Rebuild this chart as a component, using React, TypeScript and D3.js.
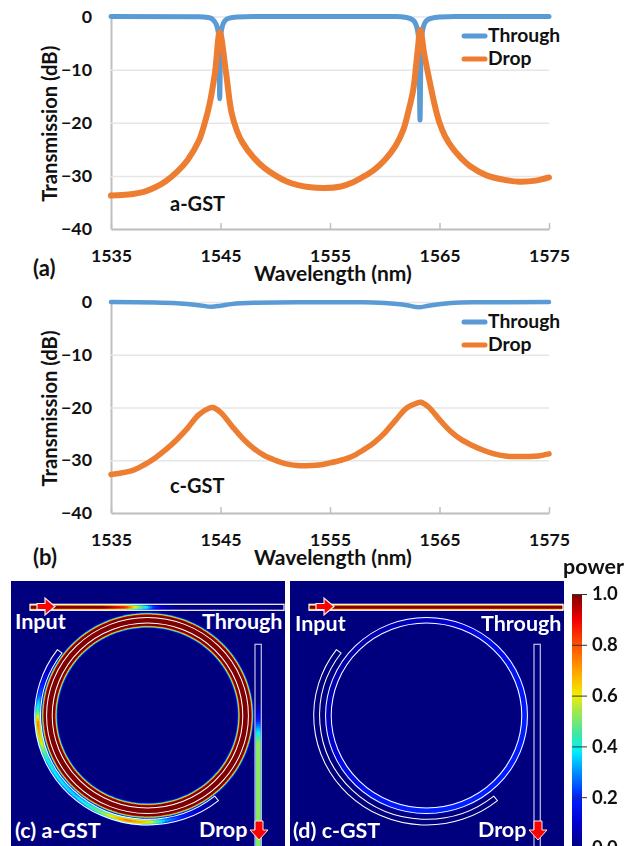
import React, { useEffect, useRef } from "react";
import * as d3 from "d3";

const FONT = "Lato, sans-serif";

// chart values
const xTicks = [1535, 1545, 1555, 1565, 1575];
const yTicks = [0, -10, -20, -30, -40];
const powerTicks = [0, 0.2, 0.4, 0.6, 0.8, 1];

const throughAx = [1535, 1543, 1544, 1544.4, 1544.7, 1544.85, 1544.93, 1545.01, 1545.15, 1545.4, 1545.8, 1546.5, 1548, 1561, 1562, 1562.6, 1562.95, 1563.12, 1563.22, 1563.32, 1563.5, 1563.8, 1564.3, 1565, 1566.5, 1575];
const throughAy = [0, -0.05, -0.25, -0.8, -2, -4, -15.5, -4, -2, -0.8, -0.3, -0.1, 0, 0, -0.2, -0.7, -2.2, -5, -19.5, -5, -2.2, -0.8, -0.3, -0.1, 0, 0];

const dropAx = [1535, 1536, 1537, 1538, 1539, 1540, 1541, 1542, 1543, 1543.5, 1544, 1544.5, 1544.93, 1545.5, 1546, 1546.5, 1547, 1548, 1549, 1550, 1551, 1552, 1553, 1554.5, 1556, 1557, 1558, 1559, 1560, 1561, 1561.7, 1562.2, 1562.6, 1563, 1563.25, 1563.6, 1564.2, 1564.6, 1565, 1565.5, 1566.2, 1567, 1567.8, 1569.3, 1570.8, 1572.3, 1573.8, 1575];
const dropAy = [-33.7, -33.6, -33.4, -33, -32.2, -31, -29.3, -27, -23.5, -20.5, -16.5, -10.5, -3, -10.5, -18, -21.5, -23.7, -26.5, -28.5, -29.9, -31, -31.7, -32.1, -32.3, -32, -31.3, -30.2, -28.9, -27, -24.3, -21.3, -17.5, -13.8, -6.5, -2.5, -7, -13.2, -17, -20, -22.5, -24.8, -26.7, -28.2, -29.9, -30.7, -31.1, -30.9, -30.3];

const throughBx = [1535, 1539, 1541, 1543, 1544.2, 1545, 1546, 1548, 1552, 1558, 1560, 1562, 1563.1, 1564, 1566, 1568, 1575];
const throughBy = [0, -0.1, -0.25, -0.6, -0.9, -0.7, -0.4, -0.15, -0.05, -0.05, -0.2, -0.6, -1, -0.7, -0.2, -0.05, 0];

const dropBx = [1535, 1537, 1538, 1539, 1540, 1541, 1542, 1543, 1544, 1544.3, 1545, 1546, 1547, 1548, 1549, 1550, 1551, 1552, 1554, 1555, 1556, 1557, 1558, 1559, 1560, 1561, 1562, 1563, 1563.3, 1564, 1565, 1566, 1567, 1568, 1569, 1570, 1571, 1572, 1573, 1574, 1575];
const dropBy = [-32.7, -31.9, -30.9, -29.6, -28, -26.1, -23.9, -21.4, -20.1, -20, -20.9, -23.4, -25.8, -27.7, -29.1, -30, -30.7, -31, -30.9, -30.5, -30, -29.3, -28.1, -26.7, -24.8, -22.4, -20.1, -19.1, -19, -19.9, -22.3, -24.5, -26.1, -27.2, -28.1, -28.8, -29.2, -29.3, -29.3, -29.2, -28.8];

// power map colours
const cmapStops = [0, 0.1, 0.2, 0.3, 0.38, 0.45, 0.55, 0.6, 0.7, 0.8, 0.9, 1];
const cmapColors = ["#00007f", "#0000d0", "#0020ff", "#0090ff", "#00f0ff", "#40e8a0", "#b0e840", "#f0f000", "#ffa000", "#ff5000", "#f00000", "#7f0000"];

// field power along the structures (a-GST panel)
const busAngleC = [141, 150, 160, 170, 178, 190, 200, 210, 220, 232, 245, 255, 265, 272, 280, 290, 300, 307];
const busPowerC = [0.02, 0.08, 0.18, 0.32, 0.62, 0.75, 0.58, 0.44, 0.36, 0.38, 0.42, 0.62, 0.75, 0.46, 0.26, 0.14, 0.05, 0.02];
const ringPowerC = 2.6;
const topXC = [30, 60, 100, 125, 132, 138, 145, 152, 160, 175, 283];
const topPowerC = [1, 1, 0.98, 0.8, 0.62, 0.5, 0.38, 0.22, 0.1, 0.01, 0];
const dropYC = [644, 700, 716, 726, 734, 742, 846];
const dropPowerC = [0, 0, 0.14, 0.3, 0.42, 0.52, 0.52];

// field power along the structures (c-GST panel)
const ringAngleD = [0, 40, 80, 110, 150, 190, 230, 270, 310, 360];
const ringPowerD = [0.2, 0.35, 0.45, 0.48, 0.5, 0.5, 0.35, 0.18, 0.12, 0.2];
const topPowerD = 1;

const panelsX = [11, 290];
const panelW = 274;

function drawChart(svg: any, top: number, bottom: number, tx: number[], ty: number[], dx: number[], dy: number[], legendY: number, tag: string, tagY: number, letter: string, letterY: number, lineW: number) {
    const x = d3.scaleLinear().domain([1535, 1575]).range([111, 549]);
    const y = d3.scaleLinear().domain([-40, 0]).range([bottom, top]);

    const yAxis = svg.append("g")
        .attr("transform", "translate(111,0)")
        .call(d3.axisLeft(y).tickValues(yTicks).tickFormat(d3.format("d")).tickSizeInner(-438).tickSizeOuter(0).tickPadding(19));
    yAxis.select(".domain").attr("stroke", "#bfbfbf").attr("stroke-width", 2);
    yAxis.selectAll(".tick line").attr("stroke", "#e6e6e6").attr("stroke-width", 1.5);
    yAxis.selectAll(".tick text").attr("fill", "#111").attr("font-size", 17.8).attr("font-weight", 700).attr("font-family", FONT);

    const xAxis = svg.append("g")
        .attr("transform", `translate(0,${bottom})`)
        .call(d3.axisBottom(x).tickValues(xTicks).tickFormat(d3.format("d")).tickSizeInner(-6).tickSizeOuter(0).tickPadding(20));
    xAxis.select(".domain").attr("stroke", "#bfbfbf").attr("stroke-width", 2);
    xAxis.selectAll(".tick line").attr("stroke", "#bfbfbf").attr("stroke-width", 1.5);
    xAxis.selectAll(".tick text").attr("fill", "#111").attr("font-size", 17.8).attr("font-weight", 700).attr("font-family", FONT);

    const throughLine = d3.line<number>()
        .x((d) => x(d))
        .y((_, i) => y(ty[i]))
        .curve(d3.curveMonotoneX);
    const dropLine = d3.line<number>()
        .x((d) => x(d))
        .y((_, i) => y(dy[i]))
        .curve(d3.curveCatmullRom);

    svg.append("path")
        .attr("d", throughLine(tx))
        .attr("fill", "none")
        .attr("stroke", "#5b9bd5")
        .attr("stroke-width", lineW)
        .attr("stroke-linecap", "round");
    svg.append("path")
        .attr("d", dropLine(dx))
        .attr("fill", "none")
        .attr("stroke", "#ed7d31")
        .attr("stroke-width", lineW + 1)
        .attr("stroke-linecap", "round");

    // legend
    [["Through", "#5b9bd5"], ["Drop", "#ed7d31"]].forEach(([name, color], i) => {
        const ly = legendY + i * 23;
        svg.append("line")
            .attr("x1", 464).attr("x2", 485)
            .attr("y1", ly).attr("y2", ly)
            .attr("stroke", color).attr("stroke-width", 5).attr("stroke-linecap", "round");
        svg.append("text").attr("x", 488).attr("y", ly + 6).text(name)
            .attr("font-size", 19.3).attr("font-weight", 700).attr("font-family", FONT).attr("fill", "#111");
    });

    const label = (t: string, lx: number, ly: number, size: number) =>
        svg.append("text").attr("x", lx).attr("y", ly).text(t)
            .attr("font-size", size).attr("font-weight", 700).attr("font-family", FONT).attr("fill", "#111");

    label(tag, 170, tagY, 20);
    label(letter, 33, letterY, 22);
    label("Wavelength (nm)", 254, letterY + (letter === "(a)" ? 5 : 0), 21);
    label("Transmission (dB)", 0, 0, 20.2)
        .attr("text-anchor", "middle")
        .attr("transform", `translate(57,${(top + bottom) / 2 + 1}) rotate(-90)`);
}

function drawPanel(svg: any, index: number, cmap: any) {
    const px = panelsX[index];
    const dxp = index === 0 ? 0 : 279;
    const cx = 147.5 + dxp;
    const cy = 715.5;
    const isC = index === 0;

    svg.append("rect").attr("x", px).attr("y", 581).attr("width", panelW).attr("height", 265).attr("fill", "#00007f");

    const clipId = `panel-clip-${index}`;
    svg.append("clipPath").attr("id", clipId)
        .append("rect").attr("x", px).attr("y", 581).attr("width", panelW).attr("height", 265);

    const root = svg.append("g").attr("clip-path", `url(#${clipId})`);
    const field = root.append("g").attr("filter", "url(#soft)");

    const ringG = field.append("g").attr("transform", `translate(${cx},${cy}) scale(1.03,1)`);
    const rad = (deg: number) => (deg * Math.PI) / 180;

    // draws thin slices of a circle, layered across the width of the guide
    const arcStrip = (g: any, r: number, from: number, to: number, power: (a: number) => number, layers: number[][]) => {
        layers.forEach(([w, f]) => {
            const arc = d3.arc();
            for (let a = from; a < to; a += 1.5) {
                g.append("path")
                    .attr("d", arc({ innerRadius: r - w / 2, outerRadius: r + w / 2, startAngle: rad(a), endAngle: rad(a + 1.9) } as any))
                    .attr("fill", cmap(power(a) * f));
            }
        });
    };

    const busLayers = [[8, 0.2], [6.5, 0.45], [5, 0.7], [3.5, 0.88], [2, 1]];
    const ringLayersC = [[16, 0.05], [15, 0.1], [14, 0.17], [13, 0.24], [12, 0.31], [11, 0.42]];
    const ringLayersD = [[8, 0.12], [7, 0.25], [6, 0.4]];

    if (isC) {
        const busScale = d3.scaleLinear().domain(busAngleC).range(busPowerC);
        arcStrip(ringG, 106.6, 141, 307, (a) => busScale(a), busLayers);
        arcStrip(ringG, 95.25, 0, 360, () => ringPowerC, ringLayersC);
    } else {
        const ringScale = d3.scaleLinear().domain(ringAngleD).range(ringPowerD);
        arcStrip(ringG, 95.25, 0, 360, (a) => ringScale(a), ringLayersD);
    }

    // straight guides, same slicing
    const guideLayers = [[6, 0.3], [5.4, 0.5], [4.8, 0.62], [4, 0.72], [3.2, 0.85], [2.4, 1.05]];
    const topScale = isC
        ? d3.scaleLinear().domain(topXC).range(topPowerC)
        : () => topPowerD;
    guideLayers.forEach(([w, f]) => {
        for (let gx = 30; gx < 284; gx += 2) {
            field.append("rect")
                .attr("x", gx + dxp).attr("y", 607.3 - w / 2)
                .attr("width", 2.4).attr("height", w)
                .attr("fill", cmap((topScale as any)(Math.min(gx, 283)) * f));
        }
    });
    if (isC) {
        const dropLayers = [[7, 0.3], [6, 0.6], [5, 0.9], [3.8, 1]];
        const dropScale = d3.scaleLinear().domain(dropYC).range(dropPowerC);
        dropLayers.forEach(([w, f]) => {
            for (let gy = 644; gy < 846; gy += 2) {
                field.append("rect")
                    .attr("x", 258.2 - w / 2).attr("y", gy)
                    .attr("width", w).attr("height", 2.4)
                    .attr("fill", cmap(dropScale(gy) * f));
            }
        });
    }

    // white outlines of the device
    const outlines = root.append("g").attr("transform", `translate(${cx},${cy}) scale(1.03,1)`);
    const arc = d3.arc();
    outlines.append("path")
        .attr("d", arc({ innerRadius: 92.5, outerRadius: 98, startAngle: 0, endAngle: Math.PI * 2 } as any))
        .attr("fill", "none").attr("stroke", "#fff").attr("stroke-width", 1).attr("fill-rule", "evenodd");
    outlines.append("path")
        .attr("d", arc({ innerRadius: 103.8, outerRadius: 109.5, startAngle: rad(141), endAngle: rad(307) } as any))
        .attr("fill", "none").attr("stroke", "#fff").attr("stroke-width", 1);

    root.append("rect").attr("x", 30 + dxp).attr("y", 604.3).attr("width", 254).attr("height", 6)
        .attr("fill", "none").attr("stroke", "#fff").attr("stroke-width", 1.2);
    root.append("rect").attr("x", 255 + dxp).attr("y", 644.3).attr("width", 6.3).attr("height", 210)
        .attr("fill", "none").attr("stroke", "#c4c4e4").attr("stroke-width", 1.2);

    // arrows
    const ay = 606.5;
    const ax = 37 + dxp;
    root.append("path")
        .attr("d", `M${ax},${ay - 3}H${ax + 8}V${ay - 8.5}L${ax + 18},${ay}L${ax + 8},${ay + 8.5}V${ay + 3}H${ax}Z`)
        .attr("fill", "#f00").attr("stroke", "#eee").attr("stroke-width", 1.2);
    const dx = 259 + dxp;
    root.append("path")
        .attr("d", `M${dx - 4},821H${dx + 4}V830H${dx + 9}L${dx},840L${dx - 9},830H${dx - 4}Z`)
        .attr("fill", "#f00").attr("stroke", "#eee").attr("stroke-width", 1);

    const label = (t: string, lx: number, ly: number) =>
        root.append("text").attr("x", lx).attr("y", ly).text(t)
            .attr("font-size", 21.5).attr("font-weight", 700).attr("font-family", FONT).attr("fill", "#fff");

    label("Input", 15 + (isC ? 0 : 1) + dxp, isC ? 629 : 631);
    label("Through", 202 + dxp, isC ? 629 : 631);
    label("Drop", 199 + dxp, 836.5);
    label(isC ? "(c) a-GST" : "(d) c-GST", isC ? 15 : 293, 838);
}

function drawColorbar(svg: any) {
    const p = d3.scaleLinear().domain([0, 1]).range([848, 594]);
    const defs = svg.append("defs");
    const grad = defs.append("linearGradient").attr("id", "powerbar")
        .attr("x1", 0).attr("x2", 0).attr("y1", 1).attr("y2", 0);
    cmapStops.forEach((s, i) => grad.append("stop").attr("offset", s).attr("stop-color", cmapColors[i]));

    svg.append("rect").attr("x", 572).attr("y", 594).attr("width", 10).attr("height", 254).attr("fill", "url(#powerbar)");

    const axis = svg.append("g")
        .attr("transform", "translate(587,0)")
        .call(d3.axisRight(p).tickValues(powerTicks).tickFormat(d3.format(".1f")).tickSizeInner(-15).tickSizeOuter(0).tickPadding(5));
    axis.select(".domain").remove();
    axis.selectAll(".tick line").attr("stroke", "#333").attr("stroke-width", 1);
    axis.selectAll(".tick text").attr("fill", "#111").attr("font-size", 18.5).attr("font-weight", 700).attr("font-family", FONT);

    svg.append("text").attr("x", 563).attr("y", 574).text("power")
        .attr("font-size", 21.5).attr("font-weight", 700).attr("font-family", FONT).attr("fill", "#111");
}

export default function App() {
    const ref = useRef<SVGSVGElement>(null);

    useEffect(() => {
        if (!ref.current) return;
        const svg = d3.select(ref.current);
        svg.selectAll("*").remove();

        const cmap = d3.scaleLinear<string>().domain(cmapStops).range(cmapColors).clamp(true);

        svg.append("filter").attr("id", "soft")
            .append("feGaussianBlur").attr("stdDeviation", 0.6);

        drawChart(svg, 16.5, 229, throughAx, throughAy, dropAx, dropAy, 36, "a-GST", 211, "(a)", 276, 5);
        drawChart(svg, 302, 513, throughBx, throughBy, dropBx, dropBy, 322, "c-GST", 493, "(b)", 565, 4.5);
        drawPanel(svg, 0, cmap);
        drawPanel(svg, 1, cmap);
        drawColorbar(svg);
    }, []);

    return (
        <svg
            ref={ref}
            width={637}
            height={846}
            viewBox="0 0 637 846"
            style={{ position: "absolute", left: 0, top: 0, background: "#fff" }}
        />
    );
}
